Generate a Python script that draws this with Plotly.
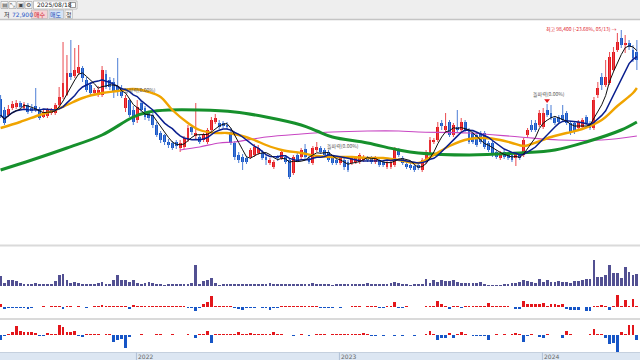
import pandas as pd
import plotly.graph_objects as go

# ---------------- data (weekly) ----------------
dates = pd.date_range("2021-04-26", periods=164, freq="7D")

open_ = [70800, 66400, 64400, 67200, 67600, 69200, 67200, 68400, 67200, 68000,
         66800, 63600, 64000, 65200, 65200, 68400, 71600, 72400, 81200, 80000,
         81200, 83200, 78400, 76400, 73200, 72400, 72400, 80800, 78400, 77600,
         76000, 75200, 67200, 70400, 66400, 62400, 69200, 67200, 65200, 64400,
         60400, 57200, 56400, 53600, 53200, 53600, 51200, 51600, 54400, 59600,
         56000, 55600, 54400, 53600, 58400, 61600, 61200, 61200, 60400, 57600,
         53200, 48400, 47600, 47200, 47600, 48400, 49200, 49200, 47600, 45200,
         43600, 47600, 47200, 47600, 46400, 41200, 48400, 47600, 50800, 47200,
         45200, 50400, 51200, 50400, 49600, 47200, 46400, 45200, 46400, 45600,
         45200, 45600, 45600, 46400, 47200, 47200, 45600, 46400, 45600, 43600,
         43600, 44400, 50400, 47200, 44800, 44400, 44000, 44400, 42400, 45600,
         49200, 53600, 54400, 61200, 58400, 61600, 56400, 59600, 58400, 61600,
         58400, 57200, 56400, 57200, 57200, 53200, 53200, 49600, 47200, 49600,
         48400, 48400, 47200, 48400, 48400, 56400, 60400, 61200, 60400, 59600,
         66400, 65200, 63200, 63600, 64400, 65200, 61200, 61200, 59200, 59600,
         63600, 61200, 59200, 72400, 79600, 76400, 77200, 82400, 90400, 95200,
         92400, 93200, 90400, 89600]
close = [64400, 61200, 66800, 68800, 69200, 67600, 68800, 65600, 66000, 66400,
         63200, 65600, 66400, 66400, 68400, 71600, 77200, 81200, 79600, 82400,
         83600, 79200, 74400, 73200, 74400, 74400, 82400, 75600, 75600, 73600,
         73600, 72000, 71200, 64400, 61600, 67600, 66400, 63600, 63200, 60400,
         56400, 54400, 53600, 52400, 51200, 52000, 53200, 55200, 59200, 57600,
         57200, 53600, 56400, 58400, 62400, 63200, 59600, 60000, 59600, 53200,
         47600, 46400, 45600, 45600, 50400, 51600, 51200, 47200, 46400, 46400,
         45600, 47200, 49600, 45600, 39600, 47600, 46400, 50400, 47600, 45600,
         51200, 51600, 49600, 48400, 46400, 45200, 45200, 47200, 43600, 42400,
         47200, 47200, 48400, 47600, 46400, 45600, 47200, 44400, 44400, 45200,
         45600, 50400, 48400, 45200, 43600, 43200, 42400, 43200, 46400, 49600,
         54400, 54400, 59600, 60000, 60000, 56400, 60400, 58400, 61600, 58400,
         53600, 53600, 52400, 53600, 51600, 50400, 48400, 47600, 49200, 47600,
         47200, 46400, 48800, 47200, 54400, 58400, 58400, 58400, 65200, 65200,
         64400, 63200, 61200, 61600, 62400, 61200, 57200, 57600, 61600, 62400,
         61200, 59200, 70400, 75200, 76400, 79600, 87600, 89600, 93600, 92400,
         93200, 91600, 87200, 86400]
high = [72400, 67600, 68400, 70000, 70400, 70000, 69600, 69200, 68800, 75200,
        67600, 66400, 67200, 67200, 69200, 75600, 93600, 88400, 94400, 91200,
        92400, 84000, 79600, 77600, 75200, 76000, 84000, 82400, 79600, 79200,
        87200, 76400, 72400, 71200, 68000, 70400, 70000, 68000, 66000, 65200,
        61600, 58000, 56800, 54800, 54000, 54400, 54400, 56000, 60400, 60400,
        69200, 56400, 57200, 59200, 63600, 64800, 62400, 62000, 61600, 59200,
        54000, 49600, 48800, 48000, 51200, 52800, 52400, 50400, 48400, 47200,
        46400, 48400, 50400, 48400, 47200, 48400, 49200, 51200, 52800, 48000,
        52000, 53600, 52000, 51200, 50400, 48000, 47200, 48000, 47200, 46400,
        48000, 48000, 49200, 48400, 48000, 48000, 48000, 47200, 46400, 46000,
        46400, 51600, 51200, 48000, 45600, 45200, 44800, 45200, 47200, 50400,
        55600, 55200, 61600, 62400, 65200, 62400, 61200, 66400, 63200, 62400,
        59200, 58000, 57200, 58000, 58000, 54000, 54000, 50400, 50000, 50400,
        49200, 49200, 49600, 49200, 55200, 59200, 62400, 62400, 66400, 67200,
        68800, 68400, 64000, 64400, 68400, 66000, 62000, 62000, 62400, 63200,
        64400, 62000, 71600, 77600, 81200, 86400, 89600, 91600, 97200, 98400,
        96400, 94400, 92400, 94400]
low = [63200, 60400, 63600, 66400, 66800, 66800, 66400, 64800, 65200, 65600,
       62400, 63200, 63200, 64400, 64400, 67600, 70800, 72000, 78400, 79200,
       80400, 77600, 73600, 72000, 72400, 71600, 71600, 74800, 74400, 71200,
       72000, 71200, 65600, 63600, 60400, 61200, 65600, 62400, 62000, 59200,
       55600, 53200, 52400, 51200, 50400, 50800, 49600, 50800, 53600, 56400,
       54800, 52800, 53600, 52800, 57600, 60800, 58800, 59200, 58800, 52400,
       46400, 45200, 42400, 44800, 46800, 47600, 48400, 46400, 44400, 44400,
       42800, 46000, 46400, 44800, 38800, 40400, 45600, 46800, 46800, 44800,
       44400, 49600, 48800, 47600, 45600, 44400, 44400, 44400, 42400, 41600,
       44400, 44800, 44800, 45600, 45600, 44800, 44800, 43600, 43600, 42800,
       42800, 43600, 47600, 44400, 42800, 42400, 41600, 42400, 41600, 44800,
       48400, 52800, 53600, 58400, 57600, 55600, 55600, 57200, 57600, 57600,
       52800, 52800, 51600, 52800, 50800, 49600, 47600, 46800, 46400, 46800,
       46400, 45600, 44000, 46400, 47600, 55200, 57600, 57600, 59600, 58800,
       63600, 62400, 60400, 60800, 61600, 60400, 56400, 56800, 58400, 58800,
       60400, 58400, 58400, 71200, 74400, 75600, 76400, 81600, 89600, 91200,
       89200, 90400, 85600, 82400]

# volume, thousand shares
volume_k = [250, 75, 150, 150, 125, 75, 50, 50, 50, 75,
            50, 50, 50, 50, 125, 275, 300, 150, 75, 100,
            75, 50, 50, 50, 50, 75, 100, 50, 50, 150,
            275, 150, 150, 100, 150, 75, 50, 75, 100, 75,
            50, 50, 25, 50, 50, 50, 50, 50, 50, 75,
            525, 50, 125, 150, 200, 75, 25, 50, 50, 50,
            50, 50, 50, 50, 50, 50, 50, 50, 50, 75,
            50, 50, 50, 50, 50, 50, 50, 50, 50, 50,
            75, 50, 50, 50, 50, 25, 50, 50, 50, 50,
            50, 50, 50, 50, 75, 50, 50, 50, 50, 50,
            75, 100, 75, 50, 50, 25, 50, 50, 50, 175,
            75, 150, 100, 150, 125, 125, 150, 100, 75, 75,
            75, 75, 75, 100, 50, 25, 25, 25, 25, 50,
            50, 75, 75, 100, 150, 125, 100, 75, 175, 100,
            150, 100, 100, 125, 100, 100, 75, 125, 125, 150,
            175, 175, 650, 225, 225, 275, 525, 325, 325, 200,
            475, 350, 275, 300]

# net buying indicators (thousand shares)
net_a = [6, -4, -2, -2, -2, -2, -2, -4, -2, -1,
         -1, 1, -1, 1, 2, 2, -4, 1, 1, -1,
         1, -1, -2, -1, 1, 1, 3, 1, 1, 2,
         2, 1, 1, -4, 4, 1, 1, 1, 1, 1,
         1, 1, 1, 1, 1, 1, 1, 2, -2, -2,
         -8, -2, 6, 10, 22, 1, 1, 1, 1, 1,
         -2, -4, -6, -2, -2, -2, -1, -2, -2, -6,
         -2, -2, 1, 2, 2, 2, 2, 1, 1, 1,
         2, 1, -2, -2, -2, -2, -1, -2, -1, -1,
         1, 1, 1, -1, 1, 1, 2, -2, -2, 1,
         1, 10, -2, -2, 2, -1, -1, -1, -1, 1,
         2, 1, 12, 6, 2, -4, 2, 1, -2, 1,
         2, 2, 2, 1, 1, 8, 1, 1, 1, 1,
         1, -1, -4, -4, 12, 6, 6, 6, 6, 8,
         1, 6, 6, 4, 6, -4, -6, -6, -6, -1,
         -8, -8, 1, 1, 4, 2, -6, 1, 24, 2,
         14, 1, 16, 2]
net_b = [-10, -2, 1, 6, 18, 8, 6, 6, 6, 4,
         -2, -2, 4, 2, 1, 20, 16, 6, 6, 8,
         -2, -4, 1, 2, 1, 1, -1, 1, 1, -14,
         -10, -8, -26, -4, -1, -1, 1, -1, -1, -1,
         1, 1, -1, -1, 1, -1, -1, -1, 1, -1,
         -6, 1, 1, 8, -16, 2, 2, 2, 2, 2,
         1, 6, 2, 1, 4, 2, 2, 2, 2, 1,
         6, 2, 1, -1, -1, -2, -1, 1, -1, -2,
         -1, 2, 1, 1, -1, 1, 1, 1, 1, 2,
         2, 1, 2, 4, 1, -2, -2, -1, -2, -1,
         -1, -2, -1, -2, -1, -1, -2, -1, -1, 1,
         8, 1, -10, -6, -6, 4, -6, 1, 6, 1,
         -1, -2, -2, -2, -2, -10, -1, 1, -1, 1,
         -1, 1, 4, 1, -14, -2, 1, -1, -4, -6,
         1, -1, -1, -1, -6, 8, 1, -1, -1, -1,
         -1, 1, 12, 1, 2, -6, -18, -16, -36, 6,
         2, 20, 20, -10]

# longer moving averages (week index, price)
ma20_idx = [0, 5, 10, 14, 17, 21, 26, 30, 34, 38, 41, 44, 48, 51, 55, 58, 61, 65, 68, 72,
            77, 81, 85, 90, 94, 98, 102, 107, 111, 115, 120, 124, 128, 131, 134, 136, 141,
            145, 149, 154, 158, 162, 163]
ma20_val = [59200, 61600, 64400, 66400, 68400, 71200, 73200, 74000, 74800, 73600, 71600,
            66400, 61200, 58400, 57200, 57200, 56400, 54400, 52400, 50400, 49200, 48000,
            47600, 47600, 47200, 47200, 46400, 45200, 48400, 52000, 54800, 55200, 54400,
            53200, 52000, 52800, 55600, 57200, 58800, 62400, 68000, 73200, 75200]
ma60_idx = [0, 8, 17, 26, 34, 38, 43, 51, 60, 68, 77, 81, 85, 94, 102, 107, 120, 133, 142,
            150, 159, 163]
ma60_val = [42400, 46400, 51200, 56400, 63600, 65600, 66400, 66400, 65600, 63600, 60400,
            58000, 55600, 53200, 50400, 49200, 48400, 49200, 50400, 53600, 58400, 61600]
ma120_idx = [46, 51, 56, 60, 68, 77, 85, 94, 102, 107, 120, 133, 143, 154, 163]
ma120_val = [50400, 51600, 53200, 53600, 55600, 56800, 57600, 58000, 58000, 57600, 57200,
             55600, 54400, 54400, 56000]

year_labels = ["2022", "2023", "2024"]
signal_text = "돌파력(0.00%)"
signal_idx = [31, 83, 136]
signal_price = [74400, 52000, 72800]

# ---------------- figure ----------------
W, H = 640, 360
def py(v):
    return 1 - v / H
def px(v):
    return v / W

FONT = "Noto Sans CJK KR, Noto Sans, sans-serif"
UP, DOWN = "#E3161B", "#1655C6"
UP_W, DOWN_W = "#EA4A4F", "#4D7ED6"

n = len(close)
idx = list(range(n))
up = [i for i in idx if close[i] >= open_[i]]
dn = [i for i in idx if close[i] < open_[i]]

s_close = pd.Series(close, dtype=float)
ma5 = s_close.rolling(5, min_periods=1).mean()
ma10 = s_close.rolling(10, min_periods=1).mean()

fig = go.Figure()

# wicks
for color, sel in ((UP_W, up), (DOWN_W, dn)):
    xs, ys = [], []
    for i in sel:
        xs += [i, i, None]
        ys += [low[i], high[i], None]
    fig.add_trace(go.Scatter(x=xs, y=ys, mode="lines", line=dict(color=color, width=1),
                             hoverinfo="skip", xaxis="x", yaxis="y"))
# bodies
for color, sel in ((UP, up), (DOWN, dn)):
    fig.add_trace(go.Bar(x=sel,
                         y=[max(abs(close[i] - open_[i]), 350) for i in sel],
                         base=[min(open_[i], close[i]) for i in sel],
                         width=0.74, marker=dict(color=color, line=dict(width=0)),
                         xaxis="x", yaxis="y"))

# moving averages
fig.add_trace(go.Scatter(x=ma120_idx, y=ma120_val, mode="lines", line=dict(color="#C846C3", width=1.2, shape="spline"), xaxis="x", yaxis="y"))
fig.add_trace(go.Scatter(x=ma60_idx, y=ma60_val, mode="lines", line=dict(color="#16902C", width=3, shape="spline"), xaxis="x", yaxis="y"))
fig.add_trace(go.Scatter(x=ma20_idx, y=ma20_val, mode="lines", line=dict(color="#F0A400", width=2.4, shape="spline"), xaxis="x", yaxis="y"))
fig.add_trace(go.Scatter(x=idx, y=ma10, mode="lines", line=dict(color="#0A1F8F", width=1.5), xaxis="x", yaxis="y"))
fig.add_trace(go.Scatter(x=idx, y=ma5, mode="lines", line=dict(color="#111111", width=1), xaxis="x", yaxis="y"))

# volume
fig.add_trace(go.Bar(x=idx, y=volume_k, width=0.72,
                     marker=dict(color="#525092", line=dict(width=0)), xaxis="x", yaxis="y2"))
# indicators
fig.add_trace(go.Bar(x=idx, y=net_a, width=0.72,
                     marker=dict(color=[UP if v > 0 else DOWN for v in net_a], line=dict(width=0)),
                     xaxis="x", yaxis="y3"))
fig.add_trace(go.Bar(x=idx, y=net_b, width=0.72,
                     marker=dict(color=[UP if v > 0 else DOWN for v in net_b], line=dict(width=0)),
                     xaxis="x", yaxis="y4"))

# signal marker
fig.add_trace(go.Scatter(x=[signal_idx[2] + 4], y=[signal_price[2] - 2600], mode="markers",
                         marker=dict(symbol="triangle-down", size=5, color=UP), xaxis="x", yaxis="y"))

shapes = []
annotations = []

# top toolbar
shapes.append(dict(type="rect", xref="paper", yref="paper", x0=0, x1=1, y0=py(19.5), y1=1,
                   fillcolor="#EEEEEE", line=dict(width=0), layer="above"))
shapes.append(dict(type="line", xref="paper", yref="paper", x0=0, x1=1, y0=py(19.5), y1=py(19.5),
                   line=dict(color="#C4C4C4", width=1.5), layer="above"))
for x0, x1 in ((1, 8), (9, 16), (17, 24), (25, 32)):
    shapes.append(dict(type="rect", xref="paper", yref="paper", x0=px(x0), x1=px(x1), y0=py(8.5), y1=py(1.5),
                       fillcolor="#F8F8F8", line=dict(color="#9A9A9A", width=0.6), layer="above"))
for x, t in ((4.5, "▤"), (12.5, "⤡"), (20.5, "▣"), (28.5, "⚙")):
    annotations.append(dict(xref="paper", yref="paper", x=px(x), y=py(5), text=t, showarrow=False,
                            font=dict(size=6, color="#444", family="DejaVu Sans"), xanchor="center", yanchor="middle"))
shapes.append(dict(type="rect", xref="paper", yref="paper", x0=px(33.5), x1=px(77), y0=py(9), y1=py(1),
                   fillcolor="#FFFFFF", line=dict(color="#9A9A9A", width=0.6), layer="above"))
annotations.append(dict(xref="paper", yref="paper", x=px(35), y=py(5), text="2025/08/18", showarrow=False,
                        font=dict(size=6, color="#222", family="DejaVu Sans"), xanchor="left", yanchor="middle"))
shapes.append(dict(type="rect", xref="paper", yref="paper", x0=px(70), x1=px(75.5), y0=py(7.5), y1=py(2.5),
                   fillcolor="#FFFFFF", line=dict(color="#555", width=0.6), layer="above"))
# second row
annotations.append(dict(xref="paper", yref="paper", x=px(2), y=py(14.3), text="저", showarrow=False,
                        font=dict(size=6, color="#222", family=FONT), xanchor="left", yanchor="middle"))
annotations.append(dict(xref="paper", yref="paper", x=px(10), y=py(14.3), text="72,900", showarrow=False,
                        font=dict(size=6, color="#2457C8", family="DejaVu Sans"), xanchor="left", yanchor="middle"))
for x0, x1, fill, col, t in ((31.5, 47.5, "#F6D3D5", "#D0202A", "매수"),
                             (49, 63.5, "#D4E2F6", "#1E4FB4", "매도"),
                             (65, 72.5, "#F6F6F6", "#333333", "정")):
    shapes.append(dict(type="rect", xref="paper", yref="paper", x0=px(x0), x1=px(x1), y0=py(18.5), y1=py(10),
                       fillcolor=fill, line=dict(color="#B0B0B0", width=0.6), layer="above"))
    annotations.append(dict(xref="paper", yref="paper", x=px((x0 + x1) / 2), y=py(14.3), text=t, showarrow=False,
                            font=dict(size=6, color=col, family=FONT), xanchor="center", yanchor="middle"))

# panel separators
for yy in (245.5, 319):
    shapes.append(dict(type="line", xref="paper", yref="paper", x0=0, x1=1, y0=py(yy), y1=py(yy),
                       line=dict(color="#DADADA", width=2)))
# bottom date band
shapes.append(dict(type="rect", xref="paper", yref="paper", x0=0, x1=1, y0=0, y1=py(352.5),
                   fillcolor="#DCE6F2", line=dict(width=0)))
shapes.append(dict(type="line", xref="paper", yref="paper", x0=0, x1=1, y0=py(352.5), y1=py(352.5),
                   line=dict(color="#C5D0DE", width=1)))
for lab in year_labels:
    yi = next(i for i, d in enumerate(dates) if d.year == int(lab))
    shapes.append(dict(type="line", xref="x", yref="paper", x0=yi - 1.2, x1=yi - 1.2, y0=0, y1=py(352.5),
                       line=dict(color="#AFC0D6", width=1)))
    annotations.append(dict(xref="x", yref="paper", x=yi - 1.3, y=py(356.3), text=lab, showarrow=False,
                            font=dict(size=6, color="#666666", family="DejaVu Sans"), xanchor="left", yanchor="middle"))

# peak annotation
pk = max(range(n), key=lambda i: high[i])
annotations.append(dict(xref="x", yref="y", x=pk - 0.5, y=high[pk] + 400,
                        text=f"최고 {high[pk]:,} (-23.68%, {dates[pk]:%m/%d}) →", showarrow=False,
                        font=dict(size=5, color="#E0202A", family=FONT), xanchor="right", yanchor="middle"))
# signal labels
for xi, pv in zip(signal_idx, signal_price):
    annotations.append(dict(xref="x", yref="y", x=xi, y=pv, text=signal_text, showarrow=False,
                            font=dict(size=5, color="#555555", family=FONT), xanchor="left", yanchor="middle"))

fig.update_layout(
    width=W, height=H, margin=dict(l=0, r=0, t=0, b=0),
    paper_bgcolor="white", plot_bgcolor="white", showlegend=False, barmode="overlay",
    bargap=0, font=dict(family=FONT), hovermode=False,
    xaxis=dict(domain=[0, 1], range=[-0.15, 163.8], visible=False, anchor="y"),
    yaxis=dict(domain=[py(245), py(20)], range=[12400, 102400], visible=False),
    yaxis2=dict(domain=[py(286), py(247)], range=[0, 975], visible=False),
    yaxis3=dict(domain=[py(318), py(288)], range=[-23, 37], visible=False),
    yaxis4=dict(domain=[py(353), py(320)], range=[-37, 30], visible=False),
    shapes=shapes, annotations=annotations,
)

fig.write_html("out.html", config={"displayModeBar": False, "staticPlot": True},
               post_script="document.body.style.margin='0px';document.body.style.overflow='hidden';")
